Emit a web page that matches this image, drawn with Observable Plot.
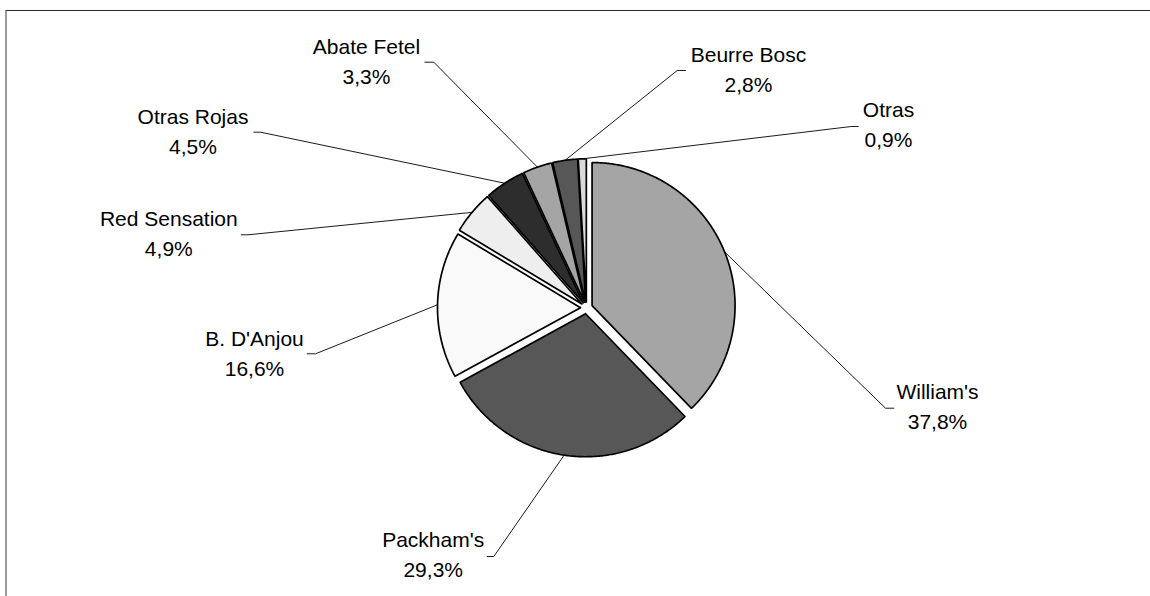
<!DOCTYPE html>
<html>
<head>
<meta charset="utf-8">
<script src="https://cdn.jsdelivr.net/npm/d3@7"></script>
<script src="https://cdn.jsdelivr.net/npm/@observablehq/plot@0.6"></script>
<style>
  html, body { margin: 0; padding: 0; background: #fff; }
  #wrap { position: relative; width: 1150px; height: 596px; overflow: hidden; }
  #frame { position: absolute; left: 5px; top: 10px; right: -10px; bottom: -10px;
           border-top: 1px solid #2a2a2a; border-left: 2px solid #9a9a9a; pointer-events: none; }
</style>
</head>
<body>
<div id="wrap"><div id="chart"></div><div id="frame"></div></div>
<script>
// ---- data ----
const names  = ["William's", "Packham's", "B. D'Anjou", "Red Sensation", "Otras Rojas", "Abate Fetel", "Beurre Bosc", "Otras"];
const shares = [37.8, 29.3, 16.6, 4.9, 4.5, 3.3, 2.8, 0.9];
const pctText = ["37,8%", "29,3%", "16,6%", "4,9%", "4,5%", "3,3%", "2,8%", "0,9%"];
const grays  = ["#a5a5a5", "#575757", "#f9f9f9", "#eeeeee", "#2d2d2d", "#a5a5a5", "#575757", "#dadada"];

// ---- layout (pixels in the chart frame) ----
const W = 1150, H = 596;
const PIE = {cx: 586, cy: 307.3, r: 143, explode: 6};
// label centre x, baseline of second line
const labelAt = [[937, 428.3], [432.7, 576.7], [254, 375], [168.3, 255], [192.5, 153.3], [366, 83.3], [748, 91.7], [888, 146.7]];
// leader: elbow x, end x, y of the short horizontal piece
const leaderAt = [[885, 893.3, 407.7], [493.3, 486.7, 556], [315, 306.7, 353.3], [247.5, 240.7, 234.3],
                  [260, 253.3, 131.7], [433.3, 424.3, 61.7], [676.7, 685, 70], [850.7, 857.7, 126]];

// ---- geometry from values ----
const arcs = d3.pie().sort(null).value(d => d)(shares);
const slices = [];
const leaders = [];
arcs.forEach((a, i) => {
  const mid = (a.startAngle + a.endAngle) / 2;
  const ox = PIE.cx + PIE.explode * Math.sin(mid);
  const oy = PIE.cy - PIE.explode * Math.cos(mid);
  const pts = [[ox, oy]];
  const n = Math.max(4, Math.ceil((a.endAngle - a.startAngle) / (Math.PI / 360)));
  for (let k = 0; k <= n; k++) {
    const t = a.startAngle + (a.endAngle - a.startAngle) * k / n;
    pts.push([ox + PIE.r * Math.sin(t), oy - PIE.r * Math.cos(t)]);
  }
  pts.push([ox, oy]);
  pts.forEach(([x, y]) => slices.push({name: names[i], x, y}));
  const mx = ox + PIE.r * Math.sin(mid), my = oy - PIE.r * Math.cos(mid);
  const [ex, endx, ly] = leaderAt[i];
  leaders.push({name: names[i], x: mx, y: my}, {name: names[i], x: ex, y: ly}, {name: names[i], x: endx, y: ly});
});
const labels = names.map((nm, i) => ({name: nm, text: nm + "\n" + pctText[i], x: labelAt[i][0], y: labelAt[i][1]}));

const chart = Plot.plot({
  width: W, height: H, margin: 0,
  x: {domain: [0, W], range: [0, W], axis: null},
  y: {domain: [0, H], range: [0, H], axis: null},
  color: {domain: names, range: grays},
  style: {background: "#fff"},
  marks: [
    Plot.line(leaders, {x: "x", y: "y", z: "name", stroke: "#000", strokeWidth: 0.9}),
    Plot.line(slices, {x: "x", y: "y", z: "name", fill: "name", stroke: "#000", strokeWidth: 1.7, strokeLinejoin: "miter", curve: "linear"}),
    Plot.text(labels, {x: "x", y: "y", text: "text", fontSize: 21, fontFamily: "'Liberation Sans', Arial, sans-serif",
      lineAnchor: "bottom", lineHeight: 30 / 21, fill: "#000", textAnchor: "middle"})
  ]
});
document.getElementById("chart").appendChild(chart);
</script>
</body>
</html>
